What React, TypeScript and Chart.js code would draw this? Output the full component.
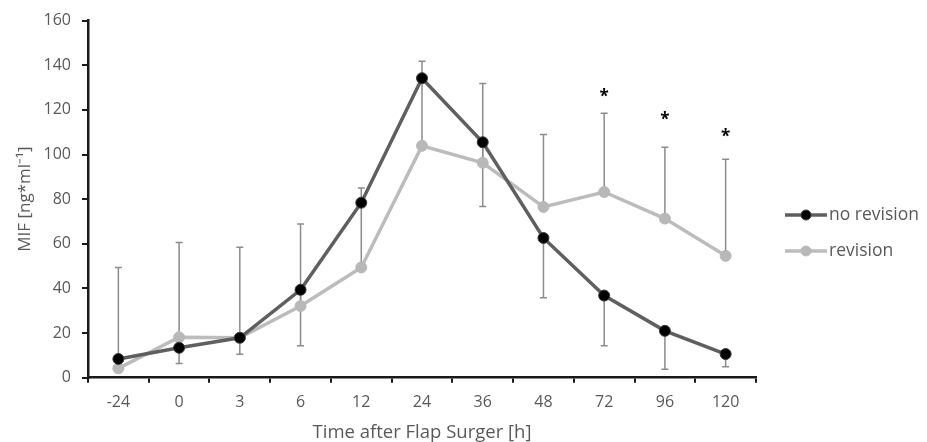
import React, { useEffect, useRef } from "react";
import { Chart, registerables } from "chart.js";

Chart.register(...registerables);

const categories = ["-24", "0", "3", "6", "12", "24", "36", "48", "72", "96", "120"];
const noRevision = [8.4, 13.4, 17.9, 39.4, 78.4, 134.2, 105.5, 62.6, 36.8, 21.0, 10.6];
const revision = [4.2, 18.1, 17.9, 32.1, 49.4, 103.9, 96.3, 76.5, 83.2, 71.3, 54.6];
// error bar ends: revision bars go up, no-revision bars go down
const revisionUpper = [49.4, 60.6, 58.5, 68.9, 85.0, 141.8, 131.8, 109.0, 118.5, 103.2, 97.9];
const noRevisionLower = [null, 6.4, 10.5, 14.3, null, null, 76.7, 35.8, 14.3, 3.8, 4.9];
// significance markers
const asterisks = [null, null, null, null, null, null, null, null, 127.3, 117.0, 109.4];

const yTicksMin = 0;
const yTicksMax = 160;
const yStep = 20;

const FONT = "'Open Sans', sans-serif";
const TEXT = "#595959";
const AXIS = "#1a1a1a";
const DARK_LINE = "#5f5f5f";
const DARK_POINT = "#000000";
const LIGHT_LINE = "#bcbcbc";
const LIGHT_POINT = "#b8b8b8";
const ERR = "#8c8c8c";

const CANVAS_H = 448;

const errorBarPlugin = {
  id: "errorBars",
  beforeDatasetsDraw(chart: any) {
    const ctx = chart.ctx;
    const x = chart.scales.x;
    const y = chart.scales.y;
    ctx.save();
    ctx.strokeStyle = ERR;
    ctx.lineWidth = 1.5;
    const cap = 3.5;
    const draw = (i: number, from: number, to: number) => {
      const px = x.getPixelForValue(i);
      const p1 = y.getPixelForValue(from);
      const p2 = y.getPixelForValue(to);
      ctx.beginPath();
      ctx.moveTo(px, p1);
      ctx.lineTo(px, p2);
      ctx.moveTo(px - cap, p2);
      ctx.lineTo(px + cap, p2);
      ctx.stroke();
    };
    categories.forEach((_, i) => {
      if (revisionUpper[i] != null) draw(i, revision[i], revisionUpper[i] as number);
      if (noRevisionLower[i] != null) draw(i, noRevision[i], noRevisionLower[i] as number);
    });
    ctx.restore();
  },
  afterDatasetsDraw(chart: any) {
    const ctx = chart.ctx;
    const x = chart.scales.x;
    const y = chart.scales.y;
    ctx.save();
    ctx.fillStyle = "#000";
    ctx.font = `bold 17px ${FONT}`;
    ctx.textAlign = "center";
    ctx.textBaseline = "middle";
    asterisks.forEach((v, i) => {
      if (v == null) return;
      ctx.fillText("*", x.getPixelForValue(i), y.getPixelForValue(v) + 4);
    });
    ctx.restore();
  },
};

const legendItems = [
  { label: "no revision", line: DARK_LINE, point: DARK_POINT, border: "#3a3a3a" },
  { label: "revision", line: LIGHT_LINE, point: LIGHT_POINT, border: LIGHT_POINT },
];

const legendPlugin = {
  id: "customLegend",
  afterDraw(chart: any) {
    const ctx = chart.ctx;
    ctx.save();
    const x0 = 785;
    const x1 = 827;
    const ys = [215, 251];
    legendItems.forEach((it, i) => {
      const yy = ys[i];
      ctx.strokeStyle = it.line;
      ctx.lineWidth = 3.5;
      ctx.beginPath();
      ctx.moveTo(x0, yy);
      ctx.lineTo(x1, yy);
      ctx.stroke();
      ctx.beginPath();
      ctx.arc((x0 + x1) / 2, yy, 5, 0, Math.PI * 2);
      ctx.fillStyle = it.point;
      ctx.fill();
      ctx.lineWidth = 1;
      ctx.strokeStyle = it.border;
      ctx.stroke();
      ctx.fillStyle = TEXT;
      ctx.font = `17.5px ${FONT}`;
      ctx.textAlign = "left";
      ctx.textBaseline = "middle";
      ctx.fillText(it.label, x1 + 2, yy);
    });
    ctx.restore();
  },
};

export default function App() {
  const ref = useRef<HTMLCanvasElement>(null);
  useEffect(() => {
    if (!ref.current) return;
    const chart = new Chart(ref.current, {
      type: "line",
      data: {
        labels: categories,
        datasets: [
          {
            label: "no revision",
            data: noRevision,
            borderColor: DARK_LINE,
            backgroundColor: DARK_POINT,
            pointBackgroundColor: DARK_POINT,
            pointBorderColor: "#3a3a3a",
            pointBorderWidth: 1,
            pointRadius: 5.5,
            borderWidth: 3.5,
            tension: 0,
          },
          {
            label: "revision",
            data: revision,
            borderColor: LIGHT_LINE,
            backgroundColor: LIGHT_POINT,
            pointBackgroundColor: LIGHT_POINT,
            pointBorderColor: LIGHT_POINT,
            pointBorderWidth: 1,
            pointRadius: 5.5,
            borderWidth: 3.5,
            tension: 0,
          },
        ],
      },
      options: {
        animation: false,
        responsive: false,
        devicePixelRatio: 1,
        layout: { padding: { left: 0, right: 171, top: 20, bottom: 0 } },
        plugins: { legend: { display: false }, tooltip: { enabled: false } },
        scales: {
          x: {
            type: "category",
            offset: true,
            afterFit: (s: any) => {
              s.height = CANVAS_H - 377.7;
            },
            grid: {
              offset: true,
              drawOnChartArea: false,
              color: AXIS,
              lineWidth: 2,
              tickLength: 5,
            },
            border: { color: AXIS, width: 2.5 },
            ticks: { color: TEXT, font: { family: FONT, size: 16 }, padding: 10, maxRotation: 0 },
            title: {
              display: true,
              text: "Time after Flap Surger [h]",
              color: TEXT,
              font: { family: FONT, size: 18.5 },
              padding: { top: 2 },
            },
          },
          y: {
            min: yTicksMin,
            max: yTicksMax,
            afterFit: (s: any) => {
              s.width = 88;
            },
            ticks: { stepSize: yStep, color: TEXT, font: { family: FONT, size: 16 }, padding: 11 },
            grid: { drawOnChartArea: false, color: AXIS, lineWidth: 2, tickLength: 6 },
            border: { color: AXIS, width: 2.5 },
            title: {
              display: true,
              text: "MIF [ng*ml\u207B\u00B9]",
              color: TEXT,
              font: { family: FONT, size: 17 },
              padding: { top: 15 },
            },
          },
        },
      },
      plugins: [errorBarPlugin, legendPlugin],
    });
    return () => chart.destroy();
  }, []);
  return (
    <div
      style={{
        position: "fixed",
        left: 0,
        top: 0,
        width: 927,
        height: 442,
        overflow: "hidden",
        background: "#fff",
      }}
    >
      <canvas ref={ref} width={927} height={CANVAS_H} style={{ display: "block" }} />
    </div>
  );
}
